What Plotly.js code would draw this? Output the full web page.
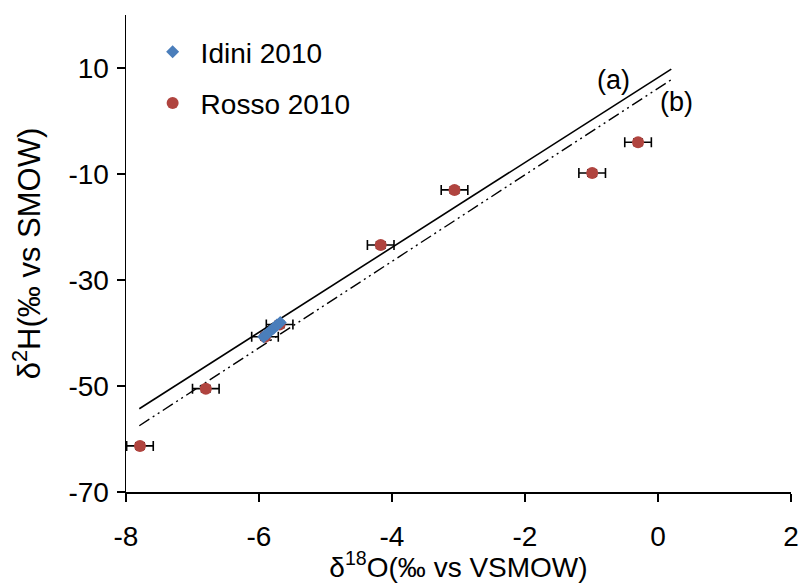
<!DOCTYPE html>
<html>
<head>
<meta charset="utf-8">
<script src="https://cdn.plot.ly/plotly-3.0.1.min.js"></script>
<style>html,body{margin:0;padding:0;background:#fff;}#chart{width:801px;height:583px;}</style>
</head>
<body>
<div id="chart"></div>
<script>
// Rosso 2010 samples
const rossoO = [-7.79, -6.80, -5.91, -5.69, -4.17, -3.06, -0.99, -0.30];
const rossoH = [-61.3, -50.5, -40.7, -38.4, -23.4, -13.0, -9.8, -4.0];
const rossoErrO = [0.2, 0.2, 0.2, 0.2, 0.2, 0.2, 0.2, 0.2];
const rossoErrH = [0.6, 0.6, 0.6, 0.6, 0.6, 0.6, 0.6, 0.6];
// Idini 2010 samples
const idiniO = [-5.93, -5.88, -5.83, -5.78, -5.73, -5.68];
const idiniH = [-40.7, -40.2, -39.6, -39.1, -38.5, -38.0];
// Reference lines (a) and (b)
const lineAO = [-7.8, 0.2];
const lineAH = [-54.3, 9.8];
const lineBO = [-7.8, 0.2];
const lineBH = [-57.5, 7.8];
// Tick labels (hyphen-minus as in the original)
const xTickVals = [-8, -6, -4, -2, 0, 2];
const xTickText = ['-8', '-6', '-4', '-2', '0', '2'];
const yTickVals = [-70, -50, -30, -10, 10];
const yTickText = ['-70', '-50', '-30', '-10', '10'];

const traces = [
  {x: lineAO, y: lineAH, mode: 'lines', line: {color: '#000', width: 1.6}, showlegend: false, hoverinfo: 'skip'},
  {x: lineBO, y: lineBH, mode: 'lines', line: {color: '#000', width: 1.4, dash: '12px,4px,2px,4px,2px,4px'}, showlegend: false, hoverinfo: 'skip'},
  {x: rossoO, y: rossoH, name: 'Rosso 2010', mode: 'markers', type: 'scatter',
   marker: {symbol: 'circle', size: 12, color: '#B0443F'},
   error_x: {type: 'data', array: rossoErrO, visible: true, color: '#000', thickness: 1.6, width: 5},
   error_y: {type: 'data', array: rossoErrH, visible: true, color: '#000', thickness: 1.6, width: 5},
   legendrank: 2, legendgroup: 'r'},
  {x: idiniO, y: idiniH, name: 'Idini 2010', mode: 'markers', type: 'scatter',
   marker: {symbol: 'diamond', size: 10, color: '#4A7EBB'},
   legendrank: 1, legendgroup: 'i'}
];

const layout = {
  width: 801, height: 583,
  margin: {l: 126, r: 10, t: 15, b: 91},
  paper_bgcolor: '#fff', plot_bgcolor: '#fff',
  font: {family: 'Liberation Sans, Arial, sans-serif', size: 20, color: '#000'},
  xaxis: {
    range: [-8, 2], tickmode: 'array', tickvals: xTickVals, ticktext: xTickText,
    showgrid: false, zeroline: false,
    showline: true, linecolor: '#000', linewidth: 1.5,
    ticks: 'outside', ticklen: 8, tickwidth: 1.5, tickcolor: '#000',
    tickfont: {size: 28}, ticklabelstandoff: 11,
    title: {text: 'δ<sup>18</sup>O(‰ vs VSMOW)', font: {size: 28}, standoff: 0}
  },
  yaxis: {
    range: [-70, 20], tickmode: 'array', tickvals: yTickVals, ticktext: yTickText,
    showgrid: false, zeroline: false,
    showline: true, linecolor: '#000', linewidth: 1.5,
    ticks: 'outside', ticklen: 8, tickwidth: 1.5, tickcolor: '#000',
    tickfont: {size: 28}, ticklabelstandoff: 2,
    title: {text: 'δ<sup>2</sup>H(‰ vs SMOW)', font: {size: 31}, standoff: 18}
  },
  legend: {
    x: 0.028, y: 0.975, xanchor: 'left', yanchor: 'top', itemwidth: 46,
    font: {size: 28}, bgcolor: 'rgba(0,0,0,0)', traceorder: 'grouped', tracegroupgap: 12
  },
  annotations: [
    {x: -0.67, y: 7.7, xref: 'x', yref: 'y', text: '(a)', showarrow: false, font: {size: 27}},
    {x: 0.28, y: 3.6, xref: 'x', yref: 'y', text: '(b)', showarrow: false, font: {size: 27}}
  ]
};

Plotly.newPlot('chart', traces, layout, {displayModeBar: false, staticPlot: true});
</script>
</body>
</html>
